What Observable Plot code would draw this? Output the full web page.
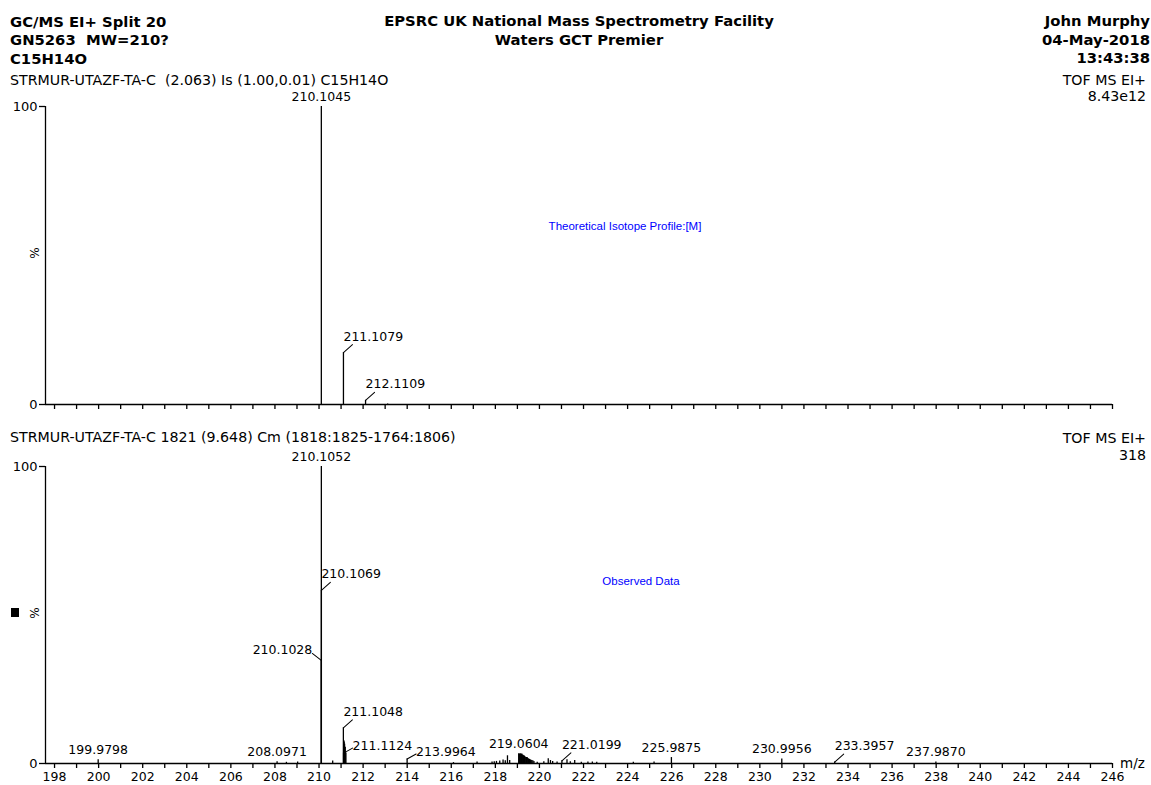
<!DOCTYPE html>
<html>
<head>
<meta charset="utf-8">
<script src="https://cdn.jsdelivr.net/npm/d3@7"></script>
<script src="https://cdn.jsdelivr.net/npm/@observablehq/plot@0.6"></script>
<style>
  body { margin: 0; background: #fff; }
  #page { position: relative; width: 1151px; height: 785px; overflow: hidden; font-family: "DejaVu Sans", sans-serif; color: #000; background: #fff; }
  .t { position: absolute; white-space: pre; line-height: 1; }
  .plot { position: absolute; left: 0; }
</style>
</head>
<body>
<div id="page"></div>
<script>
// ---------------- DATA ----------------
// Theoretical isotope profile (upper panel), % relative intensity
const theoMass = [210.1045, 211.1079, 212.1109, 213.1139];
const theoInt  = [100, 17.4, 1.4, 0.2];
const theoLabelMass  = [210.1045, 211.1079, 212.1109];
const theoLabelPlace = ["above", "right", "right"];

// Observed spectrum (lower panel), % relative intensity
const obsMass = [199.9798, 208.0971, 208.52, 209.03, 210.1028, 210.1069, 210.1052, 210.62,
  211.1048, 211.1124, 211.125, 211.14, 211.16, 211.19, 211.22, 213.9964, 216.1, 217.17,
  217.85, 217.95, 218.05, 218.2, 218.35, 218.45, 218.55, 218.65,
  219.0604, 219.08, 219.1, 219.12, 219.15, 219.18, 219.2, 219.22, 219.25, 219.28, 219.3, 219.32,
  219.35, 219.38, 219.42, 219.45, 219.5, 219.55, 219.6, 219.65, 219.7, 219.75, 219.9,
  220.2, 220.4, 220.5, 220.6, 220.8, 221.0199, 221.25, 221.4, 221.6, 221.9, 222.2, 222.4, 222.6,
  224.26, 225.2, 225.9875, 230.9956, 233.3957, 237.987];
const obsInt = [1.3, 0.6, 0.4, 0.5, 34.7, 58.3, 100, 0.8,
  12, 3.5, 7.7, 7.2, 6.5, 5.5, 3.5, 1.5, 0.3, 0.5,
  0.5, 0.6, 0.7, 0.8, 1.2, 0.9, 2.6, 1.0,
  3.3, 3.1, 3.0, 3.3, 3.2, 3.0, 3.2, 2.9, 2.8, 2.6, 2.5, 2.4,
  2.2, 2.0, 2.0, 1.9, 1.6, 1.4, 1.2, 1.0, 0.9, 0.7, 0.4,
  0.6, 1.6, 1.0, 0.7, 0.5, 0.9, 1.3, 0.6, 1.0, 0.4, 0.5, 0.5, 0.4,
  0.4, 0.5, 2.0, 1.5, 0.5, 0.5];
const obsLabelMass  = [199.9798, 208.0971, 210.1052, 210.1069, 210.1028, 211.1048, 211.1124,
  213.9964, 219.0604, 221.0199, 225.9875, 230.9956, 233.3957, 237.987];
const obsLabelPlace = ["above", "above", "above", "right", "left", "right", "side",
  "side", "above", "right", "above", "above", "right", "above"];

// Axis
const xDomain = [197.59, 246];
const xTicks = d3.range(198, 247);
const yTicks = [0, 100];

// ---------------- CHART ----------------
const page = document.getElementById("page");
const W = 1151;
const leaderShape = { draw(ctx, l) { ctx.moveTo(0, 0); ctx.lineTo(0, -l); } };
const geom = {
  above: { lead: null,    dx: 0,  dy: -10, anchor: "middle" },
  right: { lead: [9, 8],  dx: 0,  dy: -16, anchor: "start" },
  side:  { lead: [9, 5],  dx: 9,  dy: -7,  anchor: "start" },
  left:  { lead: [-9, 7], dx: -9, dy: -10, anchor: "end" }
};

function panel({ mass, intensity, lblMass, lblPlace, top, height, marginBottom, showLabels }) {
  const peaks = mass.map((m, i) => ({ mass: m, int: intensity[i] }));
  const labels = lblMass.map((m, i) => ({
    mass: m, int: intensity[mass.indexOf(m)], text: m.toFixed(4), place: lblPlace[i]
  }));
  const labelMarks = Object.entries(geom).flatMap(([key, g]) => {
    const d = labels.filter(l => l.place === key);
    if (!d.length) return [];
    const ms = [Plot.text(d, { x: "mass", y: "int", text: "text", dx: g.dx, dy: g.dy,
      textAnchor: g.anchor, fontSize: 12.5, fill: "black" })];
    if (g.lead) ms.push(Plot.vector(d, { x: "mass", y: "int", anchor: "start",
      length: Math.hypot(g.lead[0], g.lead[1]),
      rotate: Math.atan2(g.lead[0], g.lead[1]) * 180 / Math.PI,
      shape: leaderShape, stroke: "black", strokeWidth: 1 }));
    return ms;
  });
  const chart = Plot.plot({
    width: W, height,
    marginLeft: 45, marginRight: 39, marginTop: 26, marginBottom,
    x: { domain: xDomain, label: null },
    y: { domain: [0, 100], label: null },
    style: { fontFamily: "DejaVu Sans", fontSize: "12.5px", background: "transparent", overflow: "visible", color: "black" },
    marks: [
      Plot.ruleX(peaks, { x: "mass", y: "int", stroke: "black", strokeWidth: 1.3 }),
      Plot.ruleY([0], { stroke: "black", strokeWidth: 1.3 }),
      Plot.ruleX([xDomain[0]], { y1: 0, y2: 100, stroke: "black", strokeWidth: 1.3 }),
      Plot.axisX({ ticks: xTicks, tickSize: 5, tickPadding: 4, label: null, strokeWidth: 1.3,
        fontSize: 12.5, tickFormat: showLabels ? (d => d % 2 ? "" : String(d)) : () => "" }),
      Plot.axisY({ ticks: yTicks, tickSize: 6, tickPadding: 2, label: null, strokeWidth: 1.3,
        fontSize: 13, tickFormat: d => String(d) }),
      ...labelMarks
    ]
  });
  chart.classList.add("plot");
  chart.style.top = top + "px";
  page.appendChild(chart);
}

panel({ mass: theoMass, intensity: theoInt, lblMass: theoLabelMass, lblPlace: theoLabelPlace,
  top: 80, height: 338, marginBottom: 14, showLabels: false });
panel({ mass: obsMass, intensity: obsInt, lblMass: obsLabelMass, lblPlace: obsLabelPlace,
  top: 440, height: 345, marginBottom: 22, showLabels: true });

// ---------------- TEXT ----------------
function addText(txt, x, y, anchor, opts = {}) {
  const el = document.createElement("div");
  el.className = "t";
  el.textContent = txt;
  el.style.fontSize = (opts.size || 14.2) + "px";
  el.style.fontWeight = opts.bold ? "bold" : "normal";
  if (opts.family) el.style.fontFamily = opts.family;
  if (opts.color) el.style.color = opts.color;
  el.style.left = x + "px";
  el.style.top = y + "px";
  const tx = anchor === "middle" ? "-50%" : anchor === "end" ? "-100%" : "0";
  el.style.transform = `translate(${tx}, -50%)` + (opts.rotate ? ` rotate(${opts.rotate}deg)` : "");
  page.appendChild(el);
}
const B = { bold: true, size: 14.8 };
addText("GC/MS EI+ Split 20", 10, 21.5, "start", B);
addText("GN5263  MW=210?", 10, 40, "start", B);
addText("C15H14O", 10, 58.5, "start", B);
addText("STRMUR-UTAZF-TA-C  (2.063) Is (1.00,0.01) C15H14O", 10, 80, "start");
addText("EPSRC UK National Mass Spectrometry Facility", 579, 21, "middle", B);
addText("Waters GCT Premier", 579, 40, "middle", B);
addText("John Murphy", 1150, 21, "end", B);
addText("04-May-2018", 1150, 39.5, "end", B);
addText("13:43:38", 1150, 58, "end", B);
addText("TOF MS EI+", 1146, 80, "end");
addText("8.43e12", 1146, 96, "end");
addText("STRMUR-UTAZF-TA-C 1821 (9.648) Cm (1818:1825-1764:1806)", 10, 437, "start");
addText("TOF MS EI+", 1146, 438, "end");
addText("318", 1146, 455, "end");
addText("Theoretical Isotope Profile:[M]", 625, 227, "middle", { size: 11.5, family: "Liberation Sans", color: "#0000ff" });
addText("Observed Data", 641, 582, "middle", { size: 11.5, family: "Liberation Sans", color: "#0000ff" });
addText("m/z", 1120, 764, "start", { size: 13.5 });
addText("%", 35, 253, "middle", { size: 12, rotate: -90 });
addText("%", 35, 613, "middle", { size: 12, rotate: -90 });
const sq = document.createElement("div");
sq.style.cssText = "position:absolute;left:11px;top:608px;width:8px;height:9px;background:#000;";
page.appendChild(sq);
</script>
</body>
</html>
